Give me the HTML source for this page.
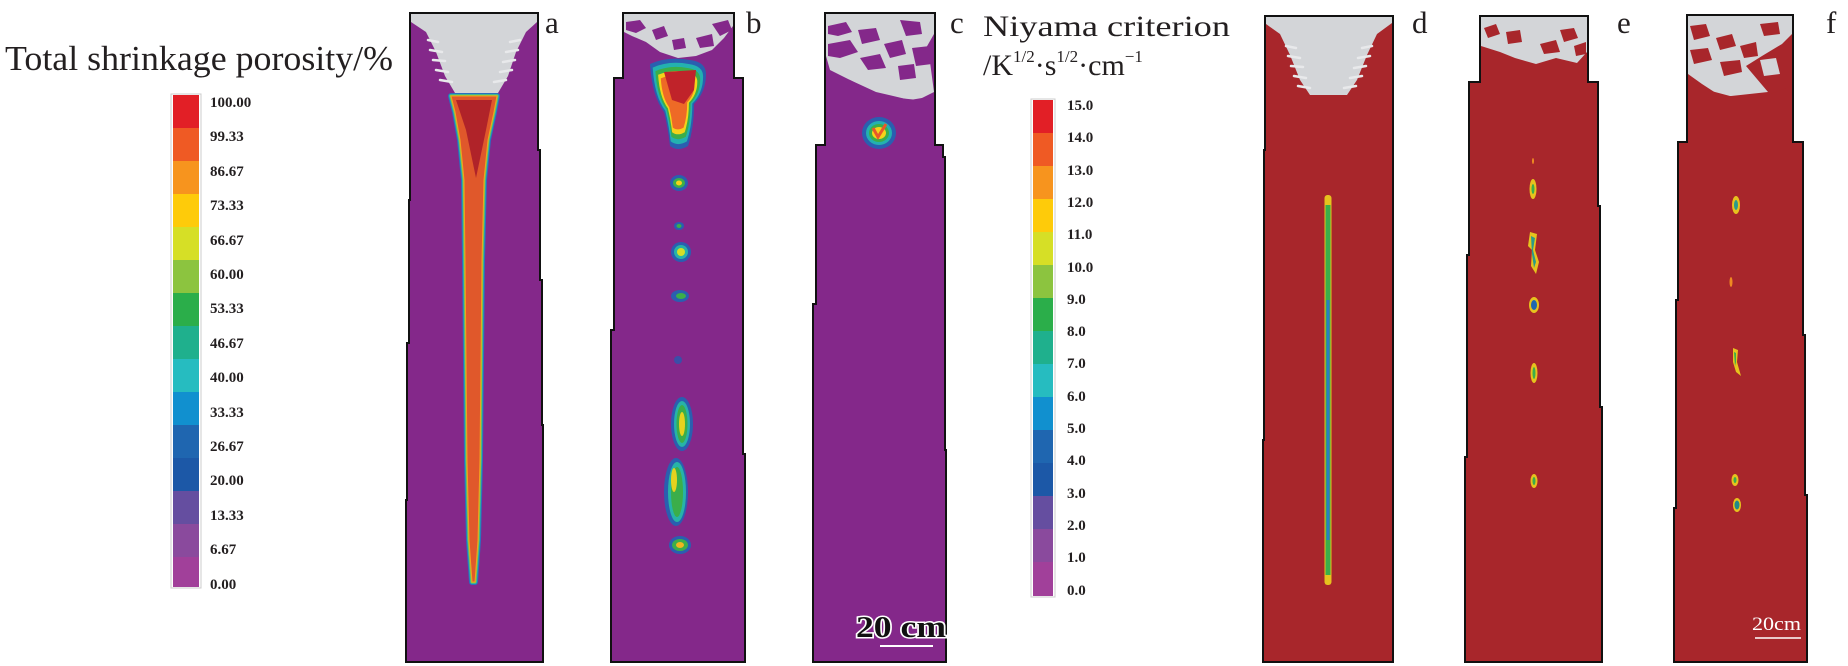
<!DOCTYPE html>
<html><head><meta charset="utf-8"><style>
html,body{margin:0;padding:0;background:#fff;}
svg{display:block;}
text{font-family:"Liberation Serif",serif;}
</style></head><body>
<svg width="1848" height="666" viewBox="0 0 1848 666" xmlns="http://www.w3.org/2000/svg">
<defs>
<path id="bt" d="M650,64 Q668,56 690,60 Q706,62 706,74 Q706,92 694,104 Q694,128 688,146 Q678,152 670,146 Q668,128 664,112 Q652,96 650,64Z"/>
<path id="ac" d="M451,96 L497,96 L494,112 L488,140 L484,180 L482,260 L481,360 L480,460 L478,540 L475,582 L472,582 L469,540 L467,460 L466,360 L465,260 L464,180 L460,140 L455,112Z"/>
</defs>

<!-- Left legend -->
<text x="5" y="70" font-size="35" textLength="388" lengthAdjust="spacingAndGlyphs" fill="#231f20">Total shrinkage porosity/%</text>
<rect x="171" y="94" width="30" height="494" fill="#fff" stroke="#ccc" stroke-width="1"/>
<g>
<rect x="173" y="95" width="26" height="33" fill="#e21f26"/>
<rect x="173" y="128" width="26" height="33" fill="#ef5a24"/>
<rect x="173" y="161" width="26" height="33" fill="#f7941e"/>
<rect x="173" y="194" width="26" height="33" fill="#fecb0a"/>
<rect x="173" y="227" width="26" height="33" fill="#d6df26"/>
<rect x="173" y="260" width="26" height="33" fill="#8cc43f"/>
<rect x="173" y="293" width="26" height="33" fill="#2bae4a"/>
<rect x="173" y="326" width="26" height="33" fill="#1fb08d"/>
<rect x="173" y="359" width="26" height="33" fill="#26bcc0"/>
<rect x="173" y="392" width="26" height="33" fill="#1190cf"/>
<rect x="173" y="425" width="26" height="33" fill="#1f66b0"/>
<rect x="173" y="458" width="26" height="33" fill="#1c58a7"/>
<rect x="173" y="491" width="26" height="33" fill="#654ea0"/>
<rect x="173" y="524" width="26" height="33" fill="#8a4a9d"/>
<rect x="173" y="557" width="26" height="30" fill="#a1409a"/>
</g>
<g font-size="15" font-weight="bold" fill="#231f20">
<text x="210" y="107">100.00</text>
<text x="210" y="141">99.33</text>
<text x="210" y="176">86.67</text>
<text x="210" y="210">73.33</text>
<text x="210" y="245">66.67</text>
<text x="210" y="279">60.00</text>
<text x="210" y="313">53.33</text>
<text x="210" y="348">46.67</text>
<text x="210" y="382">40.00</text>
<text x="210" y="417">33.33</text>
<text x="210" y="451">26.67</text>
<text x="210" y="485">20.00</text>
<text x="210" y="520">13.33</text>
<text x="210" y="554">6.67</text>
<text x="210" y="589">0.00</text>
</g>

<!-- Ingot a -->
<path d="M410,13 L538,13 L538,150 L540,150 L540,280 L542,280 L542,425 L543,425 L543,662 L406,662 L406,500 L407,500 L407,343 L409,343 L409,200 L410,200 Z" fill="#84288a" stroke="#111" stroke-width="2"/>
<path d="M411,14 L537,14 L537,22 L526,32 L516,52 L508,76 L498,93 L455,93 L445,76 L436,52 L426,32 L411,22Z" fill="#d3d5d8"/>
<g stroke="#e8e9eb" stroke-width="2.5" stroke-linecap="round">
<line x1="428" y1="40" x2="438" y2="42"/><line x1="430" y1="50" x2="442" y2="52"/><line x1="433" y1="60" x2="445" y2="61"/><line x1="436" y1="70" x2="448" y2="72"/><line x1="440" y1="80" x2="452" y2="82"/>
<line x1="510" y1="42" x2="520" y2="40"/><line x1="506" y1="52" x2="518" y2="50"/><line x1="503" y1="62" x2="515" y2="60"/><line x1="500" y1="72" x2="512" y2="70"/><line x1="494" y1="82" x2="506" y2="80"/>
</g>
<use href="#ac" fill="none" stroke="#2a6fbf" stroke-width="6" stroke-linejoin="round"/>
<use href="#ac" fill="none" stroke="#27b3a8" stroke-width="4" stroke-linejoin="round"/>
<use href="#ac" fill="none" stroke="#8cc43f" stroke-width="2.5" stroke-linejoin="round"/>
<use href="#ac" fill="#e0582b" stroke="#f3a21f" stroke-width="1"/>
<path d="M456,100 L492,100 L486,130 L476,178 L466,130Z" fill="#b02329"/>

<!-- Ingot b -->
<path d="M623,13 L734,13 L734,78 L743,78 L743,454 L745,454 L745,662 L611,662 L611,330 L614,330 L614,78 L623,78 Z" fill="#84288a" stroke="#111" stroke-width="2"/>
<path d="M624,14 L733,14 L733,26 L724,38 L712,50 L696,56 L678,58 L660,52 L646,42 L632,36 L624,32Z" fill="#d3d5d8"/>
<g fill="#84288a">
<path d="M626,22 L640,20 L646,28 L636,33 L626,30Z"/><path d="M652,30 L664,26 L668,36 L656,40Z"/>
<path d="M712,24 L728,20 L732,30 L720,36Z"/><path d="M696,38 L712,34 L714,46 L700,48Z"/><path d="M672,40 L684,38 L686,48 L674,50Z"/>
</g>
<use href="#bt" fill="#2a5fb0"/>
<use href="#bt" transform="translate(677,100) scale(0.9) translate(-677,-100)" fill="#23b1b0"/>
<use href="#bt" transform="translate(677,100) scale(0.8) translate(-677,-100)" fill="#3bae4a"/>
<use href="#bt" transform="translate(677,100) scale(0.7) translate(-677,-100)" fill="#f5d21a"/>
<use href="#bt" transform="translate(677,100) scale(0.6) translate(-677,-100)" fill="#ee6a26"/>
<path d="M664,72 L696,70 L694,90 L684,104 L672,100 Z" fill="#c0232a"/>
<g>
<ellipse cx="679" cy="183" rx="9" ry="8" fill="#2a5fb0"/><ellipse cx="679" cy="183" rx="6" ry="5" fill="#3bae4a"/><ellipse cx="679" cy="183" rx="3" ry="2.5" fill="#f5d21a"/>
<ellipse cx="679" cy="226" rx="5" ry="4" fill="#2a5fb0"/><ellipse cx="679" cy="226" rx="2.5" ry="2" fill="#3bae4a"/>
<ellipse cx="681" cy="252" rx="10" ry="10" fill="#2a5fb0"/><ellipse cx="681" cy="252" rx="7" ry="7" fill="#27b3a8"/><ellipse cx="681" cy="252" rx="4" ry="4" fill="#d6df26"/>
<ellipse cx="680" cy="296" rx="9" ry="6" fill="#2a5fb0"/><ellipse cx="681" cy="296" rx="5" ry="3" fill="#3bae4a"/>
<ellipse cx="678" cy="360" rx="4" ry="4" fill="#3a4fa8"/>
<ellipse cx="682" cy="424" rx="11" ry="27" fill="#2a5fb0"/><ellipse cx="682" cy="424" rx="8" ry="23" fill="#27b3a8"/><ellipse cx="682" cy="424" rx="5.5" ry="19" fill="#3bae4a"/><ellipse cx="682" cy="424" rx="3" ry="12" fill="#e6d21e"/>
<ellipse cx="676" cy="492" rx="12" ry="34" fill="#2a5fb0"/><ellipse cx="677" cy="492" rx="9" ry="30" fill="#27b3a8"/><ellipse cx="677" cy="492" rx="6" ry="25" fill="#3bae4a"/><ellipse cx="674" cy="480" rx="3" ry="12" fill="#e6d21e"/>
<ellipse cx="680" cy="545" rx="11" ry="9" fill="#2a5fb0"/><ellipse cx="680" cy="545" rx="8" ry="6" fill="#3bae4a"/><ellipse cx="680" cy="545" rx="4" ry="3" fill="#f0b51e"/>
</g>

<!-- Ingot c -->
<path d="M825,13 L935,13 L935,145 L943,145 L943,157 L945,157 L945,450 L946,450 L946,662 L813,662 L813,304 L816,304 L816,145 L825,145 Z" fill="#84288a" stroke="#111" stroke-width="2"/>
<path d="M826,14 L934,14 L934,34 L926,48 L930,62 L934,92 L918,100 L880,96 L850,80 L830,70 L826,56Z" fill="#d3d5d8"/>
<g fill="#84288a">
<path d="M828,26 L846,22 L852,32 L838,36 L828,34Z"/><path d="M858,30 L876,28 L880,40 L862,44Z"/>
<path d="M900,20 L920,22 L922,34 L906,36Z"/><path d="M828,44 L850,40 L858,52 L840,58 L828,56Z"/>
<path d="M884,44 L902,40 L906,54 L890,58Z"/><path d="M912,48 L930,46 L932,64 L916,66Z"/>
<path d="M860,58 L880,54 L886,68 L868,70Z"/><path d="M898,66 L914,64 L916,78 L900,80Z"/>
<path d="M828,74 L850,80 L876,92 L910,100 L934,96 L934,140 L826,140Z"/>
</g>
<ellipse cx="879" cy="133" rx="17" ry="16" fill="#2a5fb0"/>
<ellipse cx="879" cy="133" rx="13" ry="12" fill="#23b1b0"/>
<ellipse cx="879" cy="133" rx="10" ry="9" fill="#3bae4a"/>
<ellipse cx="879" cy="133" rx="7" ry="6" fill="#f5d21a"/>
<path d="M873,128 L878,137 L886,124" fill="none" stroke="#e8582a" stroke-width="3"/>
<text x="856" y="637" font-size="31" font-weight="bold" fill="#111" stroke="#fff" stroke-width="3" paint-order="stroke" textLength="90" lengthAdjust="spacingAndGlyphs">20 cm</text>
<line x1="880" y1="646" x2="933" y2="646" stroke="#fff" stroke-width="2"/>

<!-- labels a b c -->
<g font-size="31" fill="#231f20">
<text x="545" y="33">a</text>
<text x="746" y="33">b</text>
<text x="950" y="33">c</text>
<text x="1412" y="33">d</text>
<text x="1617" y="33">e</text>
<text x="1826" y="33">f</text>
</g>

<!-- Niyama legend -->
<text x="983" y="36" font-size="30" textLength="247" lengthAdjust="spacingAndGlyphs" fill="#231f20">Niyama criterion</text>
<text x="983" y="75" font-size="30" fill="#231f20">/K<tspan font-size="17" dy="-13">1/2</tspan><tspan dy="13">·s</tspan><tspan font-size="17" dy="-13">1/2</tspan><tspan dy="13">·cm</tspan><tspan font-size="17" dy="-13">−1</tspan></text>
<rect x="1031" y="99" width="24" height="498" fill="#fff" stroke="#ccc" stroke-width="1"/>
<g>
<rect x="1033" y="100" width="20" height="33" fill="#e21f26"/>
<rect x="1033" y="133" width="20" height="33" fill="#ef5a24"/>
<rect x="1033" y="166" width="20" height="33" fill="#f7941e"/>
<rect x="1033" y="199" width="20" height="33" fill="#fecb0a"/>
<rect x="1033" y="232" width="20" height="33" fill="#d6df26"/>
<rect x="1033" y="265" width="20" height="33" fill="#8cc43f"/>
<rect x="1033" y="298" width="20" height="33" fill="#2bae4a"/>
<rect x="1033" y="331" width="20" height="33" fill="#1fb08d"/>
<rect x="1033" y="364" width="20" height="33" fill="#26bcc0"/>
<rect x="1033" y="397" width="20" height="33" fill="#1190cf"/>
<rect x="1033" y="430" width="20" height="33" fill="#1f66b0"/>
<rect x="1033" y="463" width="20" height="33" fill="#1c58a7"/>
<rect x="1033" y="496" width="20" height="33" fill="#654ea0"/>
<rect x="1033" y="529" width="20" height="33" fill="#8a4a9d"/>
<rect x="1033" y="562" width="20" height="34" fill="#a1409a"/>
</g>
<g font-size="15" font-weight="bold" fill="#231f20">
<text x="1067" y="110">15.0</text>
<text x="1067" y="142">14.0</text>
<text x="1067" y="175">13.0</text>
<text x="1067" y="207">12.0</text>
<text x="1067" y="239">11.0</text>
<text x="1067" y="272">10.0</text>
<text x="1067" y="304">9.0</text>
<text x="1067" y="336">8.0</text>
<text x="1067" y="368">7.0</text>
<text x="1067" y="401">6.0</text>
<text x="1067" y="433">5.0</text>
<text x="1067" y="465">4.0</text>
<text x="1067" y="498">3.0</text>
<text x="1067" y="530">2.0</text>
<text x="1067" y="562">1.0</text>
<text x="1067" y="595">0.0</text>
</g>

<!-- Ingot d -->
<path d="M1265,16 L1393,16 L1393,662 L1263,662 L1263,440 L1264,440 L1264,150 L1265,150 Z" fill="#a8262b" stroke="#111" stroke-width="2"/>
<path d="M1266,17 L1392,17 L1392,23 L1377,34 L1367,55 L1357,80 L1347,95 L1310,95 L1300,80 L1290,55 L1280,34 L1266,24Z" fill="#d3d5d8"/>
<g stroke="#e8e9eb" stroke-width="2.5" stroke-linecap="round">
<line x1="1286" y1="46" x2="1296" y2="48"/><line x1="1288" y1="56" x2="1300" y2="58"/><line x1="1291" y1="66" x2="1303" y2="67"/><line x1="1294" y1="76" x2="1306" y2="78"/><line x1="1298" y1="86" x2="1310" y2="88"/>
<line x1="1362" y1="48" x2="1372" y2="46"/><line x1="1358" y1="58" x2="1370" y2="56"/><line x1="1354" y1="68" x2="1366" y2="66"/><line x1="1350" y1="78" x2="1362" y2="76"/><line x1="1344" y1="88" x2="1356" y2="86"/>
</g>
<rect x="1324.5" y="195" width="7" height="390" rx="3" fill="#e6c21e"/>
<rect x="1325.5" y="205" width="5" height="370" fill="#3bae4a"/>
<rect x="1326.5" y="300" width="3" height="240" fill="#2a7fc0"/>

<!-- Ingot e -->
<path d="M1480,16 L1588,16 L1588,82 L1598,82 L1598,206 L1600,206 L1600,407 L1602,407 L1602,662 L1465,662 L1465,457 L1467,457 L1467,255 L1469,255 L1469,82 L1480,82 Z" fill="#a8262b" stroke="#111" stroke-width="2"/>
<path d="M1481,17 L1587,17 L1587,52 L1577,63 L1556,58 L1536,64 L1515,58 L1500,52 L1481,46Z" fill="#d3d5d8"/>
<g fill="#a8262b">
<path d="M1484,28 L1496,24 L1500,34 L1488,38Z"/><path d="M1506,32 L1520,30 L1522,42 L1508,44Z"/>
<path d="M1560,30 L1574,28 L1578,38 L1564,42Z"/><path d="M1540,44 L1556,40 L1560,52 L1544,54Z"/><path d="M1574,46 L1586,42 L1586,54 L1576,56Z"/>
</g>
<g>
<ellipse cx="1533" cy="189" rx="3.5" ry="10" fill="#e6c21e"/><ellipse cx="1533" cy="189" rx="1.5" ry="5" fill="#3bae4a"/>
<path d="M1530,232 L1537,234 L1535,250 L1539,262 L1536,274 L1531,266 L1532,250 L1528,246Z" fill="#e6c21e"/>
<path d="M1531,236 L1535,238 L1533,250 L1536,262 L1534,268 L1532,254Z" fill="#2a9a8a"/>
<ellipse cx="1534" cy="305" rx="5" ry="8" fill="#e6c21e"/><ellipse cx="1534" cy="305" rx="3" ry="5" fill="#1f66b0"/>
<ellipse cx="1534" cy="373" rx="3.5" ry="10" fill="#e6c21e"/><ellipse cx="1534" cy="373" rx="1.5" ry="6" fill="#3bae4a"/>
<ellipse cx="1534" cy="481" rx="3.5" ry="7" fill="#e6c21e"/><ellipse cx="1534" cy="481" rx="1.5" ry="4" fill="#3bae4a"/>
<ellipse cx="1533" cy="161" rx="1" ry="3" fill="#ef8a22"/>
</g>

<!-- Ingot f -->
<path d="M1687,15 L1793,15 L1793,142 L1803,142 L1803,335 L1805,335 L1805,495 L1807,495 L1807,662 L1674,662 L1674,508 L1676,508 L1676,300 L1678,300 L1678,142 L1687,142 Z" fill="#a8262b" stroke="#111" stroke-width="2"/>
<path d="M1688,16 L1792,16 L1792,34 L1782,44 L1762,56 L1746,66 L1768,92 L1722,97 L1702,84 L1688,74Z" fill="#d3d5d8"/>
<g fill="#a8262b">
<path d="M1690,26 L1706,24 L1710,36 L1694,40Z"/><path d="M1716,38 L1732,34 L1736,46 L1720,50Z"/>
<path d="M1760,24 L1778,22 L1780,34 L1764,36Z"/><path d="M1740,46 L1756,42 L1758,56 L1744,58Z"/>
<path d="M1690,50 L1708,48 L1712,60 L1694,64Z"/><path d="M1720,62 L1740,60 L1742,72 L1724,76Z"/>
<path d="M1700,88 L1730,96 L1760,98 L1792,86 L1792,140 L1688,140 L1688,84Z"/>
</g>
<path d="M1760,60 L1776,58 L1780,74 L1764,76Z" fill="#d3d5d8"/>
<g>
<ellipse cx="1736" cy="205" rx="4" ry="9" fill="#e6c21e"/><ellipse cx="1736" cy="205" rx="2" ry="5" fill="#2a9a8a"/>
<path d="M1733,348 L1738,350 L1737,362 L1741,376 L1736,372 L1733,362Z" fill="#e6c21e"/>
<path d="M1734,352 L1736,353 L1736,362 L1735,366Z" fill="#3bae4a"/>
<ellipse cx="1731" cy="282" rx="1.5" ry="5" fill="#ef8a22"/>
<ellipse cx="1735" cy="480" rx="3.5" ry="6" fill="#e6c21e"/><ellipse cx="1735" cy="480" rx="1.5" ry="3" fill="#3bae4a"/>
<ellipse cx="1737" cy="505" rx="4" ry="7" fill="#e6c21e"/><ellipse cx="1737" cy="505" rx="2.5" ry="4.5" fill="#1f8a8a"/>
</g>
<text x="1752" y="630" font-size="19" fill="#fff" textLength="49" lengthAdjust="spacingAndGlyphs">20cm</text>
<line x1="1755" y1="638" x2="1801" y2="638" stroke="#fff" stroke-width="1.5"/>
</svg>
</body></html>
